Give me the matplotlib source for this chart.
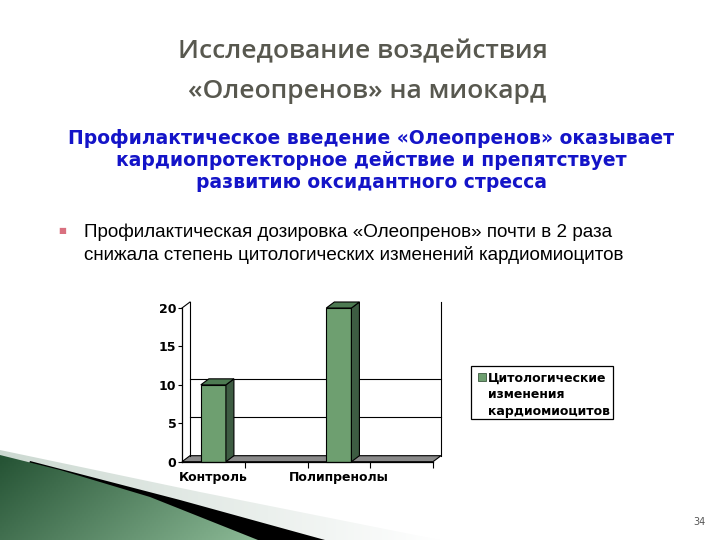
import numpy as np
import matplotlib
matplotlib.use("Agg")
import matplotlib.pyplot as plt
from matplotlib.patches import Polygon, Rectangle

# chart data
categories = ["Контроль", "Полипренолы"]
values = [10, 20]
yticks = [0, 5, 10, 15, 20]
grid_levels = [5, 10]
legend_lines = ["Цитологические", "изменения", "кардиомиоцитов"]

title = "Исследование воздействия\n«Олеопренов» на миокард"
subtitle = ["Профилактическое введение «Олеопренов» оказывает",
            "кардиопротекторное действие и препятствует",
            "развитию оксидантного стресса"]
bullet = ["Профилактическая дозировка «Олеопренов» почти в 2 раза",
          "снижала степень цитологических изменений кардиомиоцитов"]

W, H = 720, 540
fig = plt.figure(figsize=(7.2, 5.4), dpi=100)
fig.patch.set_facecolor("white")

# background layer in pixel coordinates
bg = fig.add_axes([0, 0, 1, 1], zorder=0)
bg.set_xlim(0, W)
bg.set_ylim(H, 0)
bg.axis("off")

# bottom-left decorative swoosh
xx, yy = np.meshgrid(np.linspace(0, W, 360), np.linspace(0, H, 270))
light = np.clip(xx / 440, 0, 1)
strip = np.dstack([0.80 + 0.2 * light, 0.85 + 0.15 * light, 0.82 + 0.18 * light])
p_strip = Polygon([(0, 450), (200, 492), (440, 540), (0, 540)], closed=True,
                  facecolor="none", edgecolor="none")
bg.add_patch(p_strip)
im = bg.imshow(strip, extent=[0, W, H, 0], origin="upper", aspect="auto", zorder=1)
im.set_clip_path(p_strip)

bg.add_patch(Polygon([(30, 461), (180, 500), (325, 540), (0, 540)], closed=True,
                     facecolor="black", edgecolor="none", zorder=2))

t = np.clip(xx / 250, 0, 1) * 0.7 + np.clip((yy - 455) / 85, 0, 1) * 0.3
green = np.dstack([0.14 + 0.40 * t, 0.32 + 0.40 * t, 0.20 + 0.38 * t])
p_green = Polygon([(0, 455), (60, 470), (150, 497), (258, 540), (0, 540)], closed=True,
                  facecolor="none", edgecolor="none")
bg.add_patch(p_green)
im2 = bg.imshow(green, extent=[0, W, H, 0], origin="upper", aspect="auto", zorder=3)
im2.set_clip_path(p_green)
bg.set_xlim(0, W)
bg.set_ylim(H, 0)

# texts
bg.text(363, 52, title.split("\n")[0], ha="center", va="center", fontsize=19,
        family="Open Sans", weight="semibold", color="#58584f")
bg.text(367, 92, title.split("\n")[1], ha="center", va="center", fontsize=19,
        family="Open Sans", weight="semibold", color="#58584f")
for i, line in enumerate(subtitle):
    bg.text(371, 138 + i * 22.5, line, ha="center", va="center", fontsize=13.5,
            family="DejaVu Sans", weight="bold", color="#1414c8")
bg.text(62, 231, "■", ha="center", va="center", fontsize=6, color="#d9707f")
for i, line in enumerate(bullet):
    bg.text(84, 232 + i * 23, line, ha="left", va="center", fontsize=13.6,
            family="Liberation Sans", color="black")
bg.text(699, 522, "34", ha="center", va="center", fontsize=7, color="#555555")

# legend
bg.add_patch(Rectangle((470.5, 366), 142.5, 53, facecolor="white",
                       edgecolor="black", lw=0.9, zorder=4))
bg.add_patch(Rectangle((478, 373), 8, 8, facecolor="#6e9f70",
                       edgecolor="#3c5a40", lw=0.6, zorder=5))
for i, line in enumerate(legend_lines):
    bg.text(488, 378 + i * 16.5, line, ha="left", va="center", fontsize=9,
            weight="bold", family="DejaVu Sans", zorder=5)

# 3d-looking bar chart
left, right, bottom, top = 182, 433, 461.7, 308
ax = fig.add_axes([left / W, 1 - bottom / H, (right - left) / W, (bottom - top) / H],
                  zorder=2)
nslots = 2 * len(categories)
ax.set_xlim(0, nslots)
ax.set_ylim(0, yticks[-1])
ax.patch.set_alpha(0)
dx = 8 / ((right - left) / nslots)
dy = 6 / ((bottom - top) / yticks[-1])

ax.add_patch(Polygon([(0, 0), (nslots, 0), (nslots + dx, dy), (dx, dy)],
                     closed=True, facecolor="#8a8a8a", edgecolor="black",
                     lw=0.8, clip_on=False, zorder=1))
kw = dict(color="black", lw=0.8, clip_on=False, zorder=1)
ax.plot([dx, dx], [dy, yticks[-1] + dy], **kw)
ax.plot([nslots + dx, nslots + dx], [dy, yticks[-1] + dy], **kw)
ax.plot([0, dx], [yticks[-1], yticks[-1] + dy], **kw)
for g in grid_levels:
    ax.plot([dx, nslots + dx], [g + dy, g + dy], **kw)

pos = np.arange(len(categories)) * 2 + 0.5
bw = 0.4
ax.bar(pos, values, width=bw, color="#6e9f70", edgecolor="black", lw=0.8,
       zorder=3, clip_on=False)
for x, v in zip(pos, values):
    r, l = x + bw / 2, x - bw / 2
    ax.add_patch(Polygon([(r, 0), (r + dx, dy), (r + dx, v + dy), (r, v)],
                         closed=True, facecolor="#3d5c42", edgecolor="black",
                         lw=0.8, clip_on=False, zorder=3))
    ax.add_patch(Polygon([(l, v), (l + dx, v + dy), (r + dx, v + dy), (r, v)],
                         closed=True, facecolor="#4d7a52", edgecolor="black",
                         lw=0.8, clip_on=False, zorder=3))

for s in ["top", "right"]:
    ax.spines[s].set_visible(False)
for s in ["left", "bottom"]:
    ax.spines[s].set_linewidth(0.9)
    ax.spines[s].set_zorder(4)
ax.set_yticks(yticks)
ax.set_yticklabels([str(v) for v in yticks], fontsize=9, weight="bold")
ax.tick_params(axis="y", length=3, width=0.8, pad=1)
ax.set_xticks(pos)
ax.set_xticklabels(categories, fontsize=9, weight="bold")
ax.set_xticks(np.arange(1, nslots + 1), minor=True)
ax.tick_params(axis="x", which="major", length=0, pad=7)
ax.tick_params(axis="x", which="minor", length=4, width=0.8)

fig.savefig("out.png", dpi=100)
